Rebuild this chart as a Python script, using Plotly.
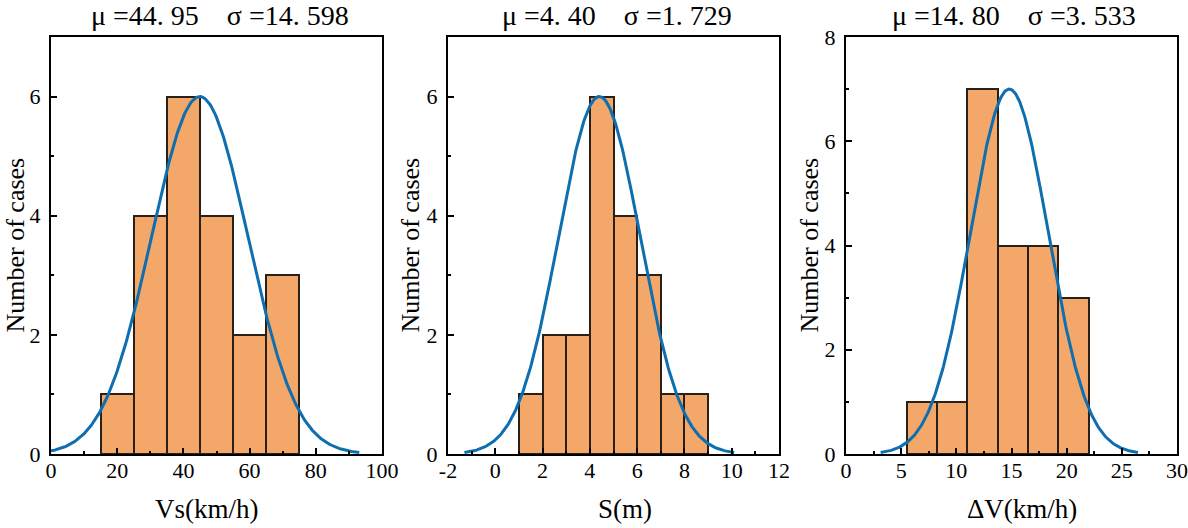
import numpy as np
import plotly.graph_objects as go

# ---------------- data ----------------
vs_edges = [15, 25, 35, 45, 55, 65, 75]
vs_counts = [1, 4, 6, 4, 2, 3]
vs_mu, vs_sigma, vs_peak = 44.95, 14.598, 6

s_edges = [1, 2, 3, 4, 5, 6, 7, 8, 9]
s_counts = [1, 2, 2, 6, 4, 3, 1, 1]
s_mu, s_sigma, s_peak = 4.40, 1.729, 6

dv_edges = [5.5, 8.25, 11.0, 13.75, 16.5, 19.25, 22.0]
dv_counts = [1, 1, 7, 4, 4, 3]
dv_mu, dv_sigma, dv_peak = 14.80, 3.533, 7

NB = "\u00a0"
titles = [f"\u03bc{NB}=44.{NB}95{NB*4}\u03c3{NB}=14.{NB}598",
          f"\u03bc{NB}=4.{NB}40{NB*4}\u03c3{NB}=1.{NB}729",
          f"\u03bc{NB}=14.{NB}80{NB*4}\u03c3{NB}=3.{NB}533"]
x_titles = ["Vs(km/h)", "S(m)", "\u0394V(km/h)"]
y_title = "Number of cases"

x_ranges = [[0, 100], [-2, 12], [0, 30]]
x_tickvals = [[0, 20, 40, 60, 80, 100],
              [-2, 0, 2, 4, 6, 8, 10, 12],
              [0, 5, 10, 15, 20, 25, 30]]
x_ticktext = [["0", "20", "40", "60", "80", "100"],
              ["-2", "0", "2", "4", "6", "8", "10", "12"],
              ["0", "5", "10", "15", "20", "25", "30"]]
x_minor = [10, 1, 2.5]
y_ranges = [[0, 7], [0, 7], [0, 8]]
right_ticks = [True, False, False]

# ---------------- style ----------------
W, H = 1188, 528
FONT = "Liberation Serif, Times New Roman, serif"
BAR_COLOR = "#F3A86A"
BAR_LINE = "#2a2018"
CURVE = "#0E6EAF"

panels_px = [(51, 382), (448, 779), (846, 1177)]
y_top_px, y_bot_px = 37, 454
title_cx = [220, 617, 1014]
xtitle_cx = [207, 625, 1022]
ytitle_cx = [15, 410, 809]


def px_x(px):
    return px / W


def px_y(py):
    return 1 - py / H


fig = go.Figure()

datasets = [
    (vs_edges, vs_counts, vs_mu, vs_sigma, vs_peak),
    (s_edges, s_counts, s_mu, s_sigma, s_peak),
    (dv_edges, dv_counts, dv_mu, dv_sigma, dv_peak),
]

for i, (edges, counts, mu, sig, peak) in enumerate(datasets):
    e = np.array(edges, dtype=float)
    centers = (e[:-1] + e[1:]) / 2
    widths = e[1:] - e[:-1]
    xa = "x" if i == 0 else f"x{i+1}"
    ya = "y" if i == 0 else f"y{i+1}"
    fig.add_trace(go.Bar(
        x=centers, y=counts, width=widths,
        marker=dict(color=BAR_COLOR, line=dict(color=BAR_LINE, width=2)),
        xaxis=xa, yaxis=ya, showlegend=False, hoverinfo="skip"))
    xc = np.linspace(mu - 3.3 * sig, mu + 3.3 * sig, 300)
    yc = peak * np.exp(-0.5 * ((xc - mu) / sig) ** 2)
    fig.add_trace(go.Scatter(
        x=xc, y=yc, mode="lines", line=dict(color=CURVE, width=3),
        xaxis=xa, yaxis=ya, showlegend=False, hoverinfo="skip"))

layout = dict(
    width=W, height=H,
    margin=dict(l=0, r=0, t=0, b=0),
    paper_bgcolor="white", plot_bgcolor="white",
    font=dict(family=FONT, size=22, color="black"),
    bargap=0,
    annotations=[],
)

y_dom = [px_y(y_bot_px), px_y(y_top_px)]
for i in range(3):
    x0, x1 = panels_px[i]
    sx = "" if i == 0 else str(i + 1)
    layout[f"xaxis{sx}"] = dict(
        domain=[px_x(x0), px_x(x1)], range=x_ranges[i], anchor=f"y{sx}",
        automargin=False,
        tickmode="array", tickvals=x_tickvals[i], ticktext=x_ticktext[i],
        ticks="inside", ticklen=6, tickwidth=2,
        tickcolor="black", showline=True, linecolor="black", linewidth=2,
        mirror=True, showgrid=False, zeroline=False,
        minor=dict(dtick=x_minor[i], tick0=0, ticks="inside", ticklen=3,
                   tickwidth=2, tickcolor="black", showgrid=False),
        tickfont=dict(family=FONT, size=22),
        ticklabelstandoff=-4,
    )
    layout[f"yaxis{sx}"] = dict(
        domain=y_dom, range=y_ranges[i], anchor=f"x{sx}",
        automargin=False,
        dtick=2, tick0=0, ticks="inside", ticklen=6, tickwidth=2,
        tickcolor="black", showline=True, linecolor="black", linewidth=2,
        mirror=True, showgrid=False, zeroline=False,
        minor=dict(dtick=1, tick0=0, ticks="inside", ticklen=3,
                   tickwidth=2, tickcolor="black", showgrid=False),
        tickfont=dict(family=FONT, size=22),
        ticklabelstandoff=4,
    )
    # panel title
    layout["annotations"].append(dict(
        text=titles[i], xref="paper", yref="paper",
        x=px_x(title_cx[i]), y=px_y(15), xanchor="center", yanchor="middle",
        showarrow=False, font=dict(family=FONT, size=28)))
    # x axis title
    layout["annotations"].append(dict(
        text=x_titles[i], xref="paper", yref="paper",
        x=px_x(xtitle_cx[i]), y=px_y(509), xanchor="center", yanchor="middle",
        showarrow=False, font=dict(family=FONT, size=27)))
    # y axis title
    layout["annotations"].append(dict(
        text=y_title, xref="paper", yref="paper", textangle=-90,
        x=px_x(ytitle_cx[i]), y=px_y((y_top_px + y_bot_px) / 2),
        xanchor="center", yanchor="middle", borderpad=0,
        showarrow=False, font=dict(family=FONT, size=26)))

# right-side major ticks (first panel only)
for i in range(3):
    if not right_ticks[i]:
        continue
    sx = "" if i == 0 else str(i + 1)
    n = 4 + i
    layout[f"yaxis{n}"] = dict(
        overlaying=f"y{sx}", side="right", anchor=f"x{sx}",
        range=y_ranges[i], dtick=2, tick0=0, ticks="inside", ticklen=6,
        tickwidth=2, tickcolor="black", showticklabels=False,
        showline=False, showgrid=False, zeroline=False, automargin=False)

fig.update_layout(**layout)
# remove the browser's default 8px body margin so the figure fills the window
fig.write_html("out.html", config={"displayModeBar": False},
               post_script="document.body.style.margin='0';")
